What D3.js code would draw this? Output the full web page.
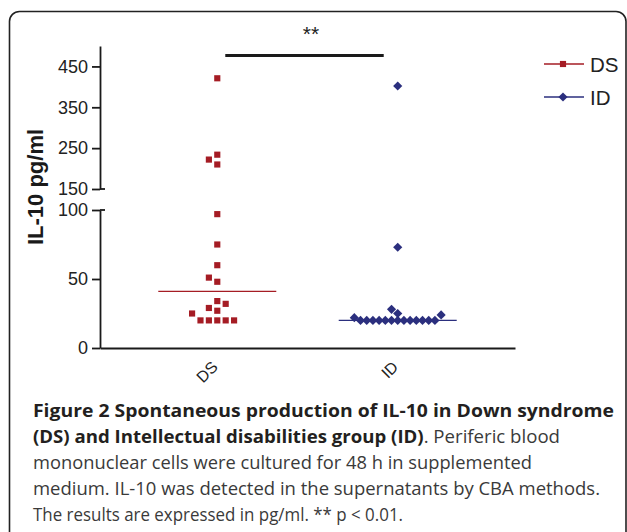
<!DOCTYPE html>
<html>
<head>
<meta charset="utf-8">
<script src="https://cdn.jsdelivr.net/npm/d3@7"></script>
<style>
  body { margin: 0; background: #fff; }
</style>
</head>
<body>
<script>
// groups and values (pg/ml)
const groups = ['DS', 'ID'];
const dsValues = [20, 20, 20, 20, 20, 25, 27, 29, 32, 34, 48, 51, 60, 75, 97, 210, 222, 234, 421];
const idValues = [20, 20, 20, 20, 20, 20, 20, 20, 20, 20, 20, 20, 20, 22, 24, 25, 28, 73, 402];
const medians = [41, 20];
const lowTicks = [0, 50, 100];
const highTicks = [150, 250, 350, 450];
const colours = ['#a51c24', '#2b2f7e'];

const caption = [
    [{t: 'Figure 2 Spontaneous production of IL-10 in Down syndrome', b: true}],
    [{t: '(DS) and Intellectual disabilities group (ID)', b: true}, {t: '. Periferic blood'}],
    [{t: 'mononuclear cells were cultured for 48 h in supplemented'}],
    [{t: 'medium. IL-10 was detected in the supernatants by CBA methods.'}],
    [{t: 'The results are expressed in pg/ml. ** p < 0.01.'}]
];
const captionWidths = [581, 527, 499, 567, 370];

const dims = {width: 627, height: 532};
const font = 'Arial, "Liberation Sans", sans-serif';

const svg = d3.select('body')
    .append('svg')
    .attr('width', dims.width)
    .attr('height', dims.height)
    .style('font-family', font);

// rounded frame, bottom runs off the page
svg.append('rect')
    .attr('x', 9.5).attr('y', 11.5)
    .attr('width', 616.5).attr('height', 600)
    .attr('rx', 10)
    .attr('fill', 'none')
    .attr('stroke', '#222')
    .attr('stroke-width', 1.6);

const x = d3.scalePoint().domain(groups).range([100, 515]).padding(0.65);
const yLow = d3.scaleLinear().domain([0, 100]).range([348, 210]);
const yHigh = d3.scaleLinear().domain([150, 500]).range([189, 46]);
const yPos = v => v <= 100 ? yLow(v) : yHigh(v);

const styleAxis = g => {
    g.attr('font-family', font).attr('font-size', 18);
    g.selectAll('path, line').attr('stroke', '#1a1a1a').attr('stroke-width', 1.8);
    g.selectAll('text').attr('fill', '#222');
};

svg.append('g')
    .attr('transform', 'translate(100,0)')
    .call(d3.axisLeft(yLow).tickValues(lowTicks).tickSize(8).tickSizeOuter(0).tickPadding(4))
    .call(styleAxis);

svg.append('g')
    .attr('transform', 'translate(100,0)')
    .call(d3.axisLeft(yHigh).tickValues(highTicks).tickSize(8).tickSizeOuter(0).tickPadding(4))
    .call(styleAxis);

// break marks cross the axis
[yLow(100), yHigh(150)].forEach(yy => {
    svg.append('line')
        .attr('x1', 100).attr('x2', 105)
        .attr('y1', yy).attr('y2', yy)
        .attr('stroke', '#1a1a1a').attr('stroke-width', 1.8);
});

const xAxis = svg.append('g')
    .attr('transform', `translate(0,${yLow(0)})`)
    .call(d3.axisBottom(x).tickSize(0).tickSizeOuter(0))
    .call(styleAxis);
xAxis.attr('font-size', 16);
xAxis.selectAll('text')
    .attr('y', 0).attr('dy', 0)
    .attr('text-anchor', 'end')
    .attr('transform', 'translate(1,20) rotate(-45)');

// y title
svg.append('text')
    .attr('transform', 'translate(43,187) rotate(-90)')
    .attr('text-anchor', 'middle')
    .attr('font-weight', 'bold')
    .attr('font-size', 22)
    .attr('fill', '#1a1a1a')
    .text('IL-10 pg/ml');

// simple dodge so points with close values sit side by side
const swarm = (values, cx, step, dist) => {
    const placed = [];
    values.forEach(v => {
        const py = yPos(v);
        for (let k = 0; k < 60; k++) {
            const slot = k === 0 ? 0 : (k % 2 ? -Math.ceil(k / 2) : k / 2);
            const px = cx + slot * step;
            const hit = placed.some(p => Math.hypot(p.x - px, p.y - py) < dist - 0.01);
            if (!hit) {
                placed.push({v, x: px, y: py});
                break;
            }
        }
    });
    return placed;
};

const series = [
    {name: 'DS', values: dsValues, step: 8.4, dist: 7.5,
        sym: d3.symbol(d3.symbolSquare, 38), rot: 0},
    {name: 'ID', values: idValues, step: 6.2, dist: 6.2,
        sym: d3.symbol(d3.symbolSquare, 42), rot: 45}
];

series.forEach((s, i) => {
    const cx = x(s.name);
    // median line
    svg.append('line')
        .attr('x1', cx - 59).attr('x2', cx + 59)
        .attr('y1', yPos(medians[i])).attr('y2', yPos(medians[i]))
        .attr('stroke', colours[i]).attr('stroke-width', 1.3);

    svg.append('g').selectAll('path')
        .data(swarm(s.values, cx, s.step, s.dist))
        .enter().append('path')
        .attr('d', s.sym)
        .attr('transform', d => `translate(${d.x},${d.y}) rotate(${s.rot})`)
        .attr('fill', colours[i]);
});

// significance bar
svg.append('line')
    .attr('x1', x('DS') + 8).attr('x2', x('ID') - 14)
    .attr('y1', 55.5).attr('y2', 55.5)
    .attr('stroke', '#1a1a1a').attr('stroke-width', 3);
svg.append('text')
    .attr('x', 311).attr('y', 41)
    .attr('text-anchor', 'middle')
    .attr('font-size', 21)
    .attr('fill', '#222')
    .text('**');

// legend
const legend = svg.append('g').attr('transform', 'translate(544,64)');
series.forEach((s, i) => {
    const row = legend.append('g').attr('transform', `translate(0,${i * 33})`);
    row.append('line')
        .attr('x1', 0).attr('x2', 40)
        .attr('stroke', colours[i]).attr('stroke-width', 1.3);
    row.append('path')
        .attr('d', s.sym)
        .attr('transform', `translate(19,0) rotate(${s.rot})`)
        .attr('fill', colours[i]);
    row.append('text')
        .attr('x', 46).attr('y', 7.5)
        .attr('font-size', 20.5)
        .attr('fill', '#222')
        .text(s.name);
});

// caption
const cap = svg.append('g')
    .attr('font-family', '"Open Sans", "Noto Sans", sans-serif')
    .attr('font-size', 17.5);
caption.forEach((line, i) => {
    const t = cap.append('text')
        .attr('x', 33)
        .attr('y', 417 + i * 26)
        .attr('textLength', captionWidths[i])
        .attr('lengthAdjust', 'spacingAndGlyphs');
    line.forEach(seg => {
        t.append('tspan')
            .attr('font-weight', seg.b ? 'bold' : 'normal')
            .attr('fill', seg.b ? '#231f20' : '#3a3a3a')
            .text(seg.t);
    });
});
</script>
</body>
</html>
